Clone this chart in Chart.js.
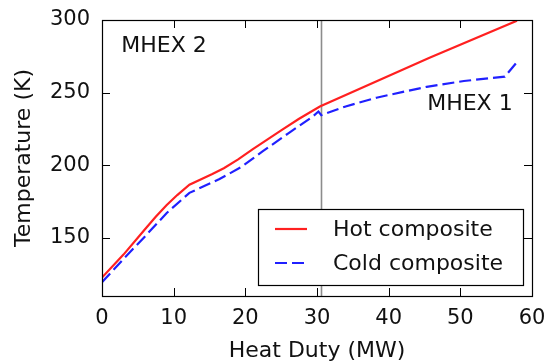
<!DOCTYPE html>
<html>
<head>
<meta charset="utf-8">
<script src="https://cdn.jsdelivr.net/npm/chart.js@4.4.0/dist/chart.umd.min.js"></script>
<style>
html, body { margin: 0; padding: 0; background: #fff; }
#wrap { width: 546px; height: 364px; }
</style>
</head>
<body>
<div id="wrap"><canvas id="myChart"></canvas></div>
<script>
// composite curves
var hotDuty = [0, 3, 6, 7.5, 9, 10.5, 12.2, 15.4, 17, 19, 21, 23, 25, 27.5, 30.4, 45.7, 57.9];
var hotTemp = [122.7, 138.5, 156, 164.5, 172.5, 179.5, 186.6, 194, 198, 204, 211, 217.5, 224, 232, 240.5, 274, 299.5];
var coldDuty = [0, 3, 6, 9, 12.2, 16.4, 19.5, 22.4, 26, 29.4, 30.2, 30.6, 34, 38.3, 42, 45.3, 50.5, 56.2, 57.9];
var coldTemp = [119.5, 135.5, 151, 167, 181, 190.5, 199, 209.5, 222, 233.5, 237, 234.5, 240.5, 246.5, 250.5, 254, 258, 261, 271];
var xTicks = [0, 10, 20, 30, 40, 50, 60];
var yTicks = [150, 200, 250, 300];
var seriesNames = ['Hot composite', 'Cold composite'];
var splitDuty = 30.5;
var notes = [
    { text: 'MHEX 2', x: 2.7, y: 278, align: 'left' },
    { text: 'MHEX 1', x: 57.3, y: 238, align: 'right' }
];

var FONT = 'DejaVu Sans';

function pts(xs, ys) {
    return xs.map(function (v, i) { return { x: v, y: ys[i] }; });
}

// keep the plot box where the picture has it, no extra room for end labels
function noPad(s) {
    s.paddingLeft = 0; s.paddingRight = 0;
    s.paddingTop = 0; s.paddingBottom = 0;
}

var framePlugin = {
    id: 'frame',
    beforeDatasetsDraw: function (chart) {
        var c = chart.ctx, a = chart.chartArea;
        var px = Math.round(chart.scales.x.getPixelForValue(splitDuty)) + 0.5;
        c.save();
        c.strokeStyle = '#8c8c8c';
        c.lineWidth = 1.6;
        c.beginPath();
        c.moveTo(px, a.top);
        c.lineTo(px, a.bottom);
        c.stroke();
        c.restore();
    },
    afterDatasetsDraw: function (chart) {
        var c = chart.ctx, a = chart.chartArea;
        var xs = chart.scales.x, ys = chart.scales.y;
        c.save();
        c.strokeStyle = '#000';
        c.lineWidth = 1.2;
        c.strokeRect(a.left + 0.5, a.top + 0.5, a.right - a.left, a.bottom - a.top);
        // inward ticks on all four sides
        var tl = 8;
        c.lineWidth = 1;
        c.beginPath();
        xTicks.forEach(function (v) {
            var p = Math.round(xs.getPixelForValue(v)) + 0.5;
            c.moveTo(p, a.bottom); c.lineTo(p, a.bottom - tl);
            c.moveTo(p, a.top); c.lineTo(p, a.top + tl);
        });
        yTicks.forEach(function (v) {
            var p = Math.round(ys.getPixelForValue(v)) + 0.5;
            c.moveTo(a.left, p); c.lineTo(a.left + tl, p);
            c.moveTo(a.right, p); c.lineTo(a.right - tl, p);
        });
        c.stroke();

        // region notes
        c.fillStyle = '#111';
        c.font = '22px "' + FONT + '"';
        c.textBaseline = 'alphabetic';
        notes.forEach(function (n) {
            c.textAlign = n.align;
            c.fillText(n.text, xs.getPixelForValue(n.x), ys.getPixelForValue(n.y));
        });

        // boxed legend, lower right
        var bw = 265, bh = 76;
        var bx = a.right - 9 - bw, by = a.bottom - 11 - bh;
        c.fillStyle = '#fff';
        c.fillRect(bx, by, bw, bh);
        c.strokeStyle = '#000';
        c.lineWidth = 1.2;
        c.strokeRect(Math.round(bx) + 0.5, Math.round(by) + 0.5, bw, bh);
        chart.data.datasets.forEach(function (ds, i) {
            var ly = by + 20 + i * 34;
            c.strokeStyle = ds.borderColor;
            c.lineWidth = ds.borderWidth;
            c.setLineDash(ds.borderDash || []);
            c.beginPath();
            c.moveTo(bx + 17, ly);
            c.lineTo(bx + 49, ly);
            c.stroke();
            c.setLineDash([]);
            c.fillStyle = '#111';
            c.textAlign = 'left';
            c.textBaseline = 'middle';
            c.fillText(ds.label, bx + 75, ly + 1);
        });
        c.restore();
    }
};

var config = {
    type: 'line',
    data: {
        datasets: [{
            label: seriesNames[0],
            data: pts(hotDuty, hotTemp),
            borderColor: '#ff2020',
            borderWidth: 2.2,
            pointRadius: 0,
            tension: 0,
            fill: false
        }, {
            label: seriesNames[1],
            data: pts(coldDuty, coldTemp),
            borderColor: '#2020ff',
            borderWidth: 2.2,
            borderDash: [12, 5],
            pointRadius: 0,
            tension: 0,
            fill: false
        }]
    },
    options: {
        responsive: true,
        maintainAspectRatio: false,
        animation: false,
        layout: { padding: { top: 20, right: 14, left: 0, bottom: 0 } },
        plugins: {
            legend: { display: false },
            tooltip: { enabled: false }
        },
        scales: {
            x: {
                type: 'linear',
                min: 0,
                max: 60,
                afterBuildTicks: function (s) { s.ticks = xTicks.map(function (v) { return { value: v }; }); },
                afterFit: function (s) { s.height = 68; noPad(s); },
                grid: { display: false, drawTicks: false },
                border: { display: false },
                ticks: { color: '#111', padding: 10, maxRotation: 0, font: { family: FONT, size: 21 } },
                title: { display: true, text: 'Heat Duty (MW)', color: '#111', padding: 0, font: { family: FONT, size: 22 } }
            },
            y: {
                type: 'linear',
                min: 110,
                max: 300,
                afterBuildTicks: function (s) { s.ticks = yTicks.map(function (v) { return { value: v }; }); },
                afterFit: function (s) { s.width = 102; noPad(s); },
                grid: { display: false, drawTicks: false },
                border: { display: false },
                ticks: { color: '#111', padding: 12, font: { family: FONT, size: 21 } },
                title: { display: true, text: 'Temperature (K)', color: '#111', padding: { top: 11, bottom: 0 }, font: { family: FONT, size: 22 } }
            }
        }
    },
    plugins: [framePlugin]
};

var ctx = document.getElementById('myChart').getContext('2d');
var myChart = new Chart(ctx, config);
</script>
</body>
</html>
